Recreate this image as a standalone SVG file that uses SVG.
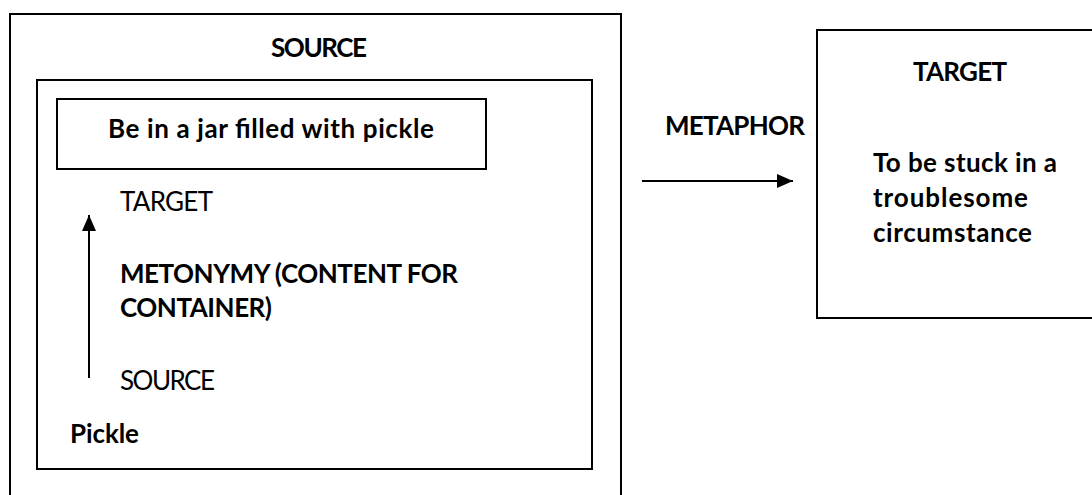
<svg xmlns="http://www.w3.org/2000/svg" width="1092" height="495" viewBox="0 0 1092 495">
<style>
.box{fill:none;stroke:#000;stroke-width:2}
.t{font-family:Lato,"Liberation Sans",sans-serif;font-size:26px;fill:#000}
.b{font-weight:bold}
.ln{stroke:#000;stroke-width:2;fill:none}
</style>
<defs>
<marker id="ah" viewBox="0 0 16 14" refX="16" refY="7" markerWidth="16" markerHeight="14" markerUnits="userSpaceOnUse" orient="auto">
<path d="M0,0 L16,7 L0,14 z" fill="#000"/>
</marker>
</defs>
<rect width="1092" height="495" fill="#fff"/>
<g id="source-domain">
<rect class="box" x="10" y="14" width="611" height="490"/>
<text class="t b" x="271" y="57" textLength="96">SOURCE</text>
</g>
<g id="metonymy-frame">
<rect class="box" x="37" y="80" width="555" height="389"/>
</g>
<g id="jar">
<rect class="box" x="57" y="99" width="429" height="70"/>
<text class="t b" x="108" y="138" textLength="326">Be in a jar filled with pickle</text>
</g>
<g id="metonymy-target">
<text class="t" x="120" y="211" textLength="93">TARGET</text>
</g>
<g id="metonymy-label">
<text class="t b" x="120" y="283" textLength="338">METONYMY (CONTENT FOR</text>
<text class="t b" x="120" y="317" textLength="152">CONTAINER)</text>
</g>
<g id="metonymy-source">
<text class="t" x="120" y="390" textLength="95">SOURCE</text>
</g>
<g id="pickle">
<text class="t b" x="70" y="443" textLength="69">Pickle</text>
</g>
<g id="metaphor-label">
<text class="t b" x="665" y="135" textLength="140">METAPHOR</text>
</g>
<g id="target-domain">
<rect class="box" x="817" y="30" width="290" height="288"/>
<text class="t b" x="913" y="81" textLength="94">TARGET</text>
<text class="t b" x="873" y="172" textLength="184">To be stuck in a</text>
<text class="t b" x="873" y="207" textLength="155">troublesome</text>
<text class="t b" x="873" y="242" textLength="159">circumstance</text>
</g>
<g id="connectors">
<line class="ln" x1="89" y1="378" x2="89" y2="215" marker-end="url(#ah)"/>
<line class="ln" x1="642" y1="181" x2="793" y2="181" marker-end="url(#ah)"/>
</g>
</svg>
